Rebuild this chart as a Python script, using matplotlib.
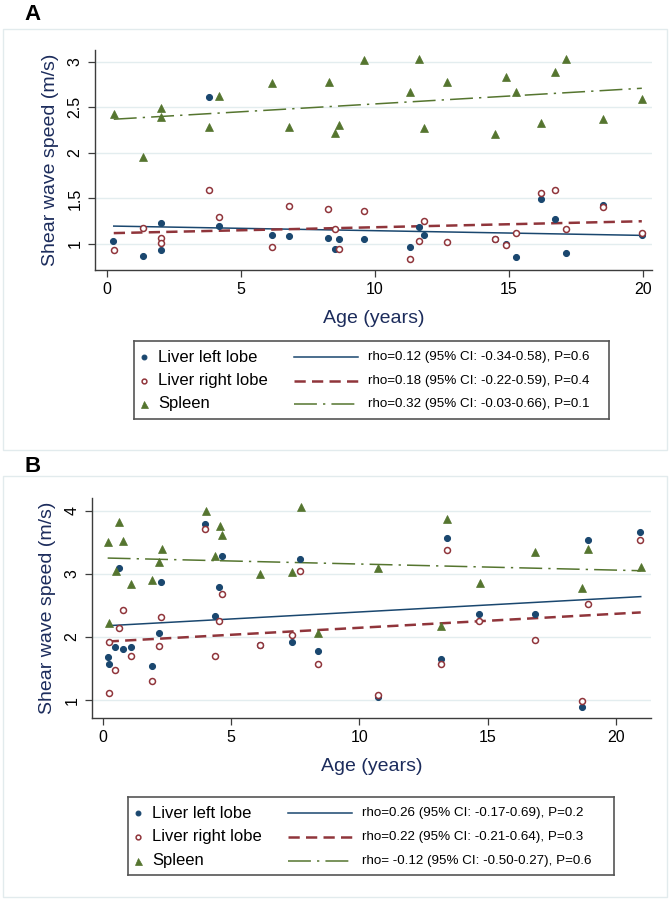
import matplotlib
matplotlib.use('Agg')
import matplotlib.pyplot as plt
from matplotlib.patches import Rectangle

plt.rcParams['font.family'] = ['Liberation Sans', 'DejaVu Sans']

# colours (Stata s2color)
NAVY = '#1a476f'
MAROON = '#90353b'
GREEN = '#55752f'
TITLE_COL = '#1c2c5c'

# ---- panel A data ----
age_a_left = [0.26, 1.36, 2.03, 2.03, 3.83, 4.21, 6.16, 6.82, 8.28, 8.52, 8.68, 9.59,
              11.32, 11.64, 11.85, 14.51, 14.89, 15.28, 16.22, 16.73, 17.13, 18.53, 19.97]
left_a = [1.03, 0.87, 1.23, 0.93, 2.61, 1.20, 1.10, 1.09, 1.07, 0.95, 1.05, 1.06,
          0.97, 1.19, 1.10, 1.05, 1.00, 0.86, 1.49, 1.27, 0.90, 1.43, 1.10]
age_a_right = [0.27, 1.36, 2.03, 2.03, 3.83, 4.21, 6.16, 6.82, 8.28, 8.52, 8.68, 9.59,
               11.32, 11.64, 11.85, 12.71, 14.51, 14.89, 15.28, 16.22, 16.73, 17.13, 18.53, 19.97]
right_a = [0.94, 1.18, 1.07, 1.01, 1.59, 1.30, 0.97, 1.42, 1.39, 1.17, 0.95, 1.36,
           0.84, 1.03, 1.25, 1.02, 1.05, 0.99, 1.12, 1.56, 1.59, 1.17, 1.41, 1.12]
age_a_spleen = [0.27, 1.36, 2.03, 2.03, 3.83, 4.21, 6.16, 6.82, 8.29, 8.53, 8.68, 9.59,
                11.32, 11.64, 11.85, 12.71, 14.51, 14.89, 15.28, 16.22, 16.73, 17.13, 18.53, 19.97]
spleen_a = [2.43, 1.96, 2.49, 2.39, 2.28, 2.62, 2.77, 2.28, 2.78, 2.22, 2.31, 3.02,
            2.67, 3.03, 2.27, 2.78, 2.21, 2.83, 2.67, 2.33, 2.89, 3.03, 2.37, 2.59]
fit_a_age = [0.27, 19.97]
fit_a_left = [1.197, 1.095]
fit_a_right = [1.12, 1.25]
fit_a_spleen = [2.37, 2.71]
legend_a = ["rho=0.12 (95% CI: -0.34-0.58), P=0.6",
            "rho=0.18 (95% CI: -0.22-0.59), P=0.4",
            "rho=0.32 (95% CI: -0.03-0.66), P=0.1"]

# ---- panel B data ----
age_b_left = [0.19, 0.23, 0.49, 0.64, 0.78, 1.09, 1.91, 2.18, 2.27, 4.00, 4.36, 4.52, 4.64,
              6.13, 7.38, 7.70, 8.39, 10.71, 13.18, 13.43, 14.64, 16.83, 18.69, 18.90, 20.94]
left_b = [1.68, 1.58, 1.84, 3.10, 1.81, 1.84, 1.55, 2.06, 2.87, 3.79, 2.33, 2.80, 3.29,
          1.88, 1.93, 3.23, 1.78, 1.05, 1.65, 3.57, 2.37, 2.37, 0.90, 3.53, 3.67]
age_b_right = [0.23, 0.23, 0.49, 0.64, 0.79, 1.09, 1.91, 2.18, 2.27, 4.00, 4.36, 4.53, 4.64,
               6.13, 7.39, 7.70, 8.39, 10.71, 13.18, 13.43, 14.64, 16.83, 18.69, 18.90, 20.94]
right_b = [1.93, 1.11, 1.48, 2.14, 2.43, 1.70, 1.31, 1.86, 2.32, 3.71, 1.70, 2.25, 2.68,
           1.87, 2.04, 3.04, 1.58, 1.09, 1.58, 3.37, 2.26, 1.96, 0.99, 2.53, 3.54]
age_b_spleen = [0.22, 0.26, 0.52, 0.64, 0.79, 1.09, 1.92, 2.19, 2.30, 4.01, 4.38, 4.56, 4.66,
                6.14, 7.39, 7.71, 8.40, 10.71, 13.17, 13.43, 14.68, 16.83, 18.69, 18.90, 20.96]
spleen_b = [3.51, 2.22, 3.04, 3.82, 3.52, 2.84, 2.90, 3.19, 3.40, 3.99, 3.28, 3.76, 3.62,
            2.99, 3.03, 4.06, 2.06, 3.10, 2.18, 3.87, 2.85, 3.34, 2.77, 3.39, 3.11]
fit_b_age = [0.19, 20.96]
fit_b_left = [2.18, 2.64]
fit_b_right = [1.93, 2.39]
fit_b_spleen = [3.25, 3.05]
legend_b = ["rho=0.26 (95% CI: -0.17-0.69), P=0.2",
            "rho=0.22 (95% CI: -0.21-0.64), P=0.3",
            "rho= -0.12 (95% CI: -0.50-0.27), P=0.6"]

ticks_a = [1, 1.5, 2, 2.5, 3]
tick_labels_a = ["1", "1.5", "2", "2.5", "3"]
ticks_b = [1, 2, 3, 4]
tick_labels_b = ["1", "2", "3", "4"]
xticks_a = [0, 5, 10, 15, 20]
xticks_b = [0, 5, 10, 15, 20]

W, H = 671, 900
fig = plt.figure(figsize=(W / 100, H / 100), dpi=100)


def fx(px):
    return px / W


def fy(py):
    return 1 - py / H


def panel_box(top, bottom):
    fig.patches.append(Rectangle((fx(3), fy(bottom)), fx(664), (bottom - top) / H,
                                 transform=fig.transFigure, fc='white', ec='#e2ebed',
                                 lw=1.0, zorder=-5))


line_styles = [
    dict(color=NAVY, lw=1.1, ls='-'),
    dict(color=MAROON, lw=1.8, ls=(0, (4.5, 2.5))),
    dict(color=GREEN, lw=1.1, ls=(0, (15, 4, 1.5, 4))),
]
marker_styles = [
    dict(marker='o', ms=4.3, mfc=NAVY, mec=NAVY, mew=0.8),
    dict(marker='o', ms=4.3, mfc='white', mec=MAROON, mew=1.1),
    dict(marker='^', ms=6.3, mfc=GREEN, mec=GREEN, mew=0.5),
]


def scatter_panel(rect, xlim, ylim, yticks, ylabels, xticks, series, fits, fit_age):
    ax = fig.add_axes(rect)
    ax.patch.set_alpha(0)
    ax.set_xlim(*xlim)
    ax.set_ylim(*ylim)
    for s in ['top', 'right']:
        ax.spines[s].set_visible(False)
    for s in ['left', 'bottom']:
        ax.spines[s].set_color('#3c3c3c')
        ax.spines[s].set_linewidth(1.0)
    ax.set_yticks(yticks)
    ax.set_yticklabels(ylabels, rotation=90, va='center', fontsize=11.5)
    ax.set_xticks(xticks)
    ax.set_xticklabels([str(t) for t in xticks], fontsize=11.5)
    ax.tick_params(direction='out', length=5, width=0.9, color='#3c3c3c', pad=4)
    for y in yticks:
        ax.axhline(y, color='#e3edef', lw=1.0, zorder=0)
    for (xs, ys), ms in zip(series, marker_styles):
        ax.plot(xs, ys, ls='none', zorder=3, **ms)
    for ys, st in zip(fits, line_styles):
        ax.plot(fit_age, ys, zorder=2, **st)
    ax.set_ylabel("Shear wave speed (m/s)", fontsize=14, color=TITLE_COL, labelpad=6)
    ax.set_xlabel("Age (years)", fontsize=14, color=TITLE_COL, labelpad=9)
    return ax


def legend_box(left, top, width, height, rows, texts):
    lax = fig.add_axes([fx(left), fy(top + height), fx(width), height / H])
    lax.set_xlim(0, width)
    lax.set_ylim(height, 0)
    lax.set_xticks([])
    lax.set_yticks([])
    for s in lax.spines.values():
        s.set_color('#555555')
        s.set_linewidth(1.2)
    names = ["Liver left lobe", "Liver right lobe", "Spleen"]
    for y, name, txt, ms, st in zip(rows, names, texts, marker_styles, line_styles):
        m = dict(ms)
        m['ms'] = m['ms'] * 0.8
        lax.plot([10], [y], ls='none', **m)
        lax.text(24, y, name, fontsize=12, va='center', ha='left')
        lax.plot([160, 224], [y, y], **st)
        lax.text(234, y, txt, fontsize=9.6, va='center', ha='left')
    return lax


# ---- panel A ----
panel_box(29, 450)
fig.text(fx(24), fy(14), "A", fontsize=16, fontweight='bold', va='center', ha='left')
scatter_panel([fx(95), fy(270), fx(557), 220 / H], (-0.43, 20.35), (0.715, 3.13),
              ticks_a, tick_labels_a, xticks_a,
              [(age_a_left, left_a), (age_a_right, right_a), (age_a_spleen, spleen_a)],
              [fit_a_left, fit_a_right, fit_a_spleen], fit_a_age)
legend_box(134, 341, 475, 78, [16, 40, 63], legend_a)

# ---- panel B ----
panel_box(476, 897)
fig.text(fx(24), fy(466), "B", fontsize=16, fontweight='bold', va='center', ha='left')
scatter_panel([fx(92), fy(718), fx(559), 220 / H], (-0.42, 21.36), (0.72, 4.2),
              ticks_b, tick_labels_b, xticks_b,
              [(age_b_left, left_b), (age_b_right, right_b), (age_b_spleen, spleen_b)],
              [fit_b_left, fit_b_right, fit_b_spleen], fit_b_age)
legend_box(128, 797, 486, 78, [16, 40, 64], legend_b)

fig.savefig("out.png", dpi=100, facecolor='white')
